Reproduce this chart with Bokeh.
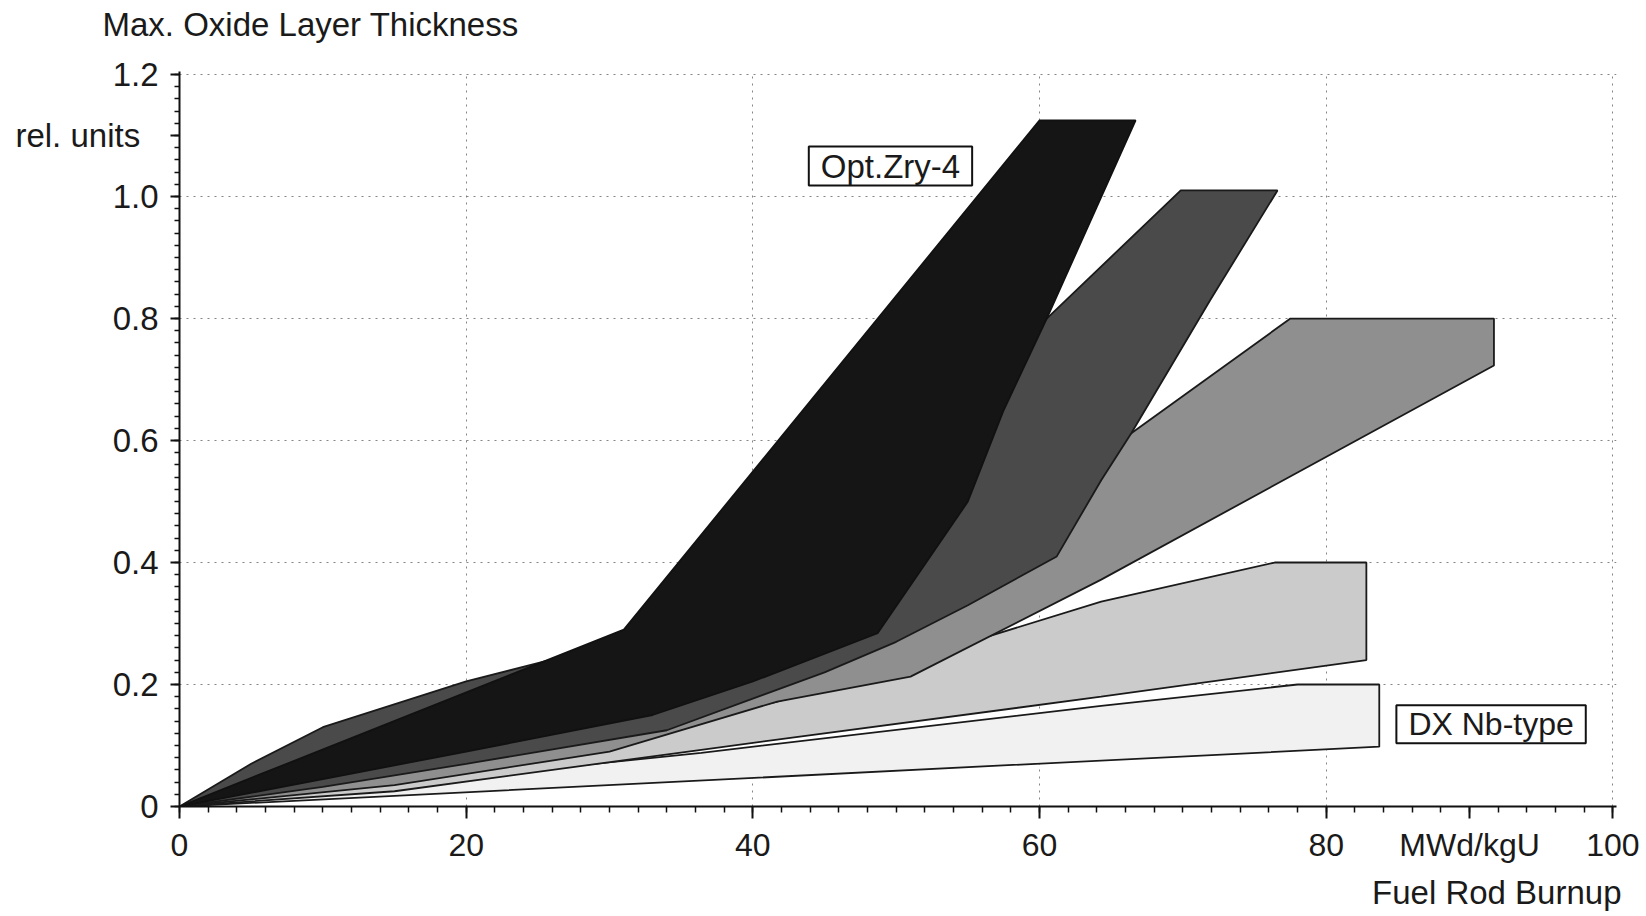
from bokeh.plotting import figure
from bokeh.models import FixedTicker, CustomJSTickFormatter, Label, Title
from bokeh.embed import file_html
from bokeh.resources import INLINE

# ---- data (fuel rod burnup MWd/kgU, oxide thickness rel. units) ----
# Band 1: Opt.Zry-4 (black)
b1_upper_x = [0, 31, 60, 66.7]
b1_upper_y = [0, 0.29, 1.125, 1.125]
b1_lower_x = [0, 10, 20, 33, 40, 48.7, 51.5, 55, 57.5, 60.5, 66.7]
b1_lower_y = [0, 0.045, 0.09, 0.15, 0.205, 0.284, 0.38, 0.50, 0.65, 0.80, 1.125]

# Band 2 (dark grey)
b2_upper_x = [0, 5, 10, 20, 30, 45, 60.5, 69.85, 76.6]
b2_upper_y = [0, 0.07, 0.13, 0.205, 0.265, 0.45, 0.80, 1.01, 1.01]
b2_lower_x = [0, 10, 20, 34, 45, 50, 55, 61.2, 64.3, 66.4, 71.9, 76.6]
b2_lower_y = [0, 0.032, 0.07, 0.125, 0.22, 0.27, 0.33, 0.41, 0.535, 0.612, 0.83, 1.01]

# Band 3 (medium grey)
b3_upper_x = [0, 20, 40, 55, 66.4, 77.5, 91.7]
b3_upper_y = [0, 0.10, 0.25, 0.40, 0.612, 0.80, 0.80]
b3_lower_x = [0, 15, 30, 41.7, 51, 64.3, 91.7]
b3_lower_y = [0, 0.035, 0.09, 0.172, 0.213, 0.372, 0.723]

# Band 4 (light grey)
b4_upper_x = [0, 20, 41.7, 64.3, 76.4, 82.8]
b4_upper_y = [0, 0.055, 0.172, 0.336, 0.40, 0.40]
b4_lower_x = [0, 15, 36.4, 64.3, 82.8]
b4_lower_y = [0, 0.025, 0.093, 0.18, 0.24]

# Band 5: DX Nb-type (very light)
b5_upper_x = [0, 36.4, 64.3, 78, 83.7]
b5_upper_y = [0, 0.088, 0.165, 0.20, 0.20]
b5_lower_x = [0, 83.7]
b5_lower_y = [0, 0.098]

x_ticks = [0, 20, 40, 60, 80, 100]
y_ticks = [0, 0.2, 0.4, 0.6, 0.8, 1.0, 1.2]
x_unit_pos = 90       # where "MWd/kgU" sits on the x axis
y_unit_pos = 1.1      # where "rel. units" sits on the y axis

FONT = "Liberation Sans"

p = figure(width=1646, height=916, x_range=(0, 100.25), y_range=(0, 1.205),
           output_backend="svg", toolbar_location=None,
           min_border_left=179, min_border_right=30,
           min_border_top=71, min_border_bottom=109)
p.outline_line_color = None
p.background_fill_color = "white"
p.border_fill_color = "white"

# title (above, left) - outermost in the top panel
p.title.text = "Max. Oxide Layer Thickness"
p.title.align = "left"
p.title.vertical_align = "bottom"
p.title.offset = -77
p.title.text_font = FONT
p.title.text_font_size = "33px"
p.title.text_font_style = "normal"
p.title.text_color = "#1a1a1a"
p.title.standoff = 0

# small spacer between the title and the frame
p.add_layout(Title(text="\u00a0", text_font=FONT, text_font_size="10px",
                   standoff=16), "above")

# x quantity label (below, right)
p.add_layout(Title(text="Fuel Rod Burnup", align="right", offset=-5,
                   text_font=FONT, text_font_size="33px", text_font_style="normal",
                   text_color="#1a1a1a", standoff=12), "below")


def poly(ux, uy, lx, ly):
    xs = list(ux) + list(reversed(lx))
    ys = list(uy) + list(reversed(ly))
    return xs, ys


bands = [
    (b5_upper_x, b5_upper_y, b5_lower_x, b5_lower_y, "#f1f1f1", "#1a1a1a"),
    (b4_upper_x, b4_upper_y, b4_lower_x, b4_lower_y, "#cbcbcb", "#1a1a1a"),
    (b3_upper_x, b3_upper_y, b3_lower_x, b3_lower_y, "#8f8f8f", "#1a1a1a"),
    (b2_upper_x, b2_upper_y, b2_lower_x, b2_lower_y, "#4a4a4a", "#1a1a1a"),
    (b1_upper_x, b1_upper_y, b1_lower_x, b1_lower_y, "#151515", "#111111"),
]
for ux, uy, lx, ly, fc, lc in bands:
    xs, ys = poly(ux, uy, lx, ly)
    p.patch(xs, ys, fill_color=fc, line_color=lc, line_width=1.8)

# axes
p.xaxis.ticker = FixedTicker(ticks=x_ticks + [x_unit_pos], minor_ticks=list(range(0, 101, 2)))
p.yaxis.ticker = FixedTicker(ticks=y_ticks + [y_unit_pos], minor_ticks=[i * 0.02 for i in range(61)])
p.xaxis.formatter = CustomJSTickFormatter(
    args=dict(u=x_unit_pos),
    code="return Math.abs(tick - u) < 1e-9 ? 'MWd/kgU' : String(Math.round(tick));")
p.yaxis.formatter = CustomJSTickFormatter(
    args=dict(u=y_unit_pos),
    code="if (Math.abs(tick - u) < 1e-9) return 'rel. units\\u00a0\\u00a0'; return tick == 0 ? '0' : tick.toFixed(1);")
p.xgrid.ticker = FixedTicker(ticks=x_ticks)
p.ygrid.ticker = FixedTicker(ticks=y_ticks)

for ax in (p.xaxis, p.yaxis):
    ax.axis_line_width = 2
    ax.axis_line_color = "#111111"
    ax.major_tick_line_width = 2
    ax.major_tick_line_color = "#111111"
    ax.minor_tick_line_color = "#111111"
    ax.minor_tick_line_width = 1.5
    ax.major_tick_in = 0
    ax.minor_tick_in = 0
    ax.major_label_text_font = FONT
    ax.major_label_text_color = "#1a1a1a"

p.xaxis.major_label_text_font_size = "32px"
p.yaxis.major_label_text_font_size = "33px"
p.xaxis.major_tick_out = 12
p.xaxis.minor_tick_out = 6
p.xaxis.major_label_standoff = 8
p.yaxis.major_tick_out = 9
p.yaxis.minor_tick_out = 5
p.yaxis.major_label_standoff = 12

for g in (p.xgrid, p.ygrid):
    g.grid_line_color = "#666666"
    g.grid_line_dash = "2 5"
    g.grid_line_alpha = 0.8
    g.grid_line_width = 1


# boxed labels inside the frame
def lab(x, y, text, size):
    p.add_layout(Label(x=x, y=y, text=text, text_font=FONT, text_font_size=size,
                       text_color="#1a1a1a", text_align="center", text_baseline="middle",
                       border_line_color="#111111", border_line_width=2,
                       background_fill_color="white", padding=dict(x=12, y=1)))


lab(49.6, 1.05, "Opt.Zry-4", "33px")
lab(91.5, 0.135, "DX Nb-type", "32px")

open("out.html", "w").write(file_html(p, INLINE))
